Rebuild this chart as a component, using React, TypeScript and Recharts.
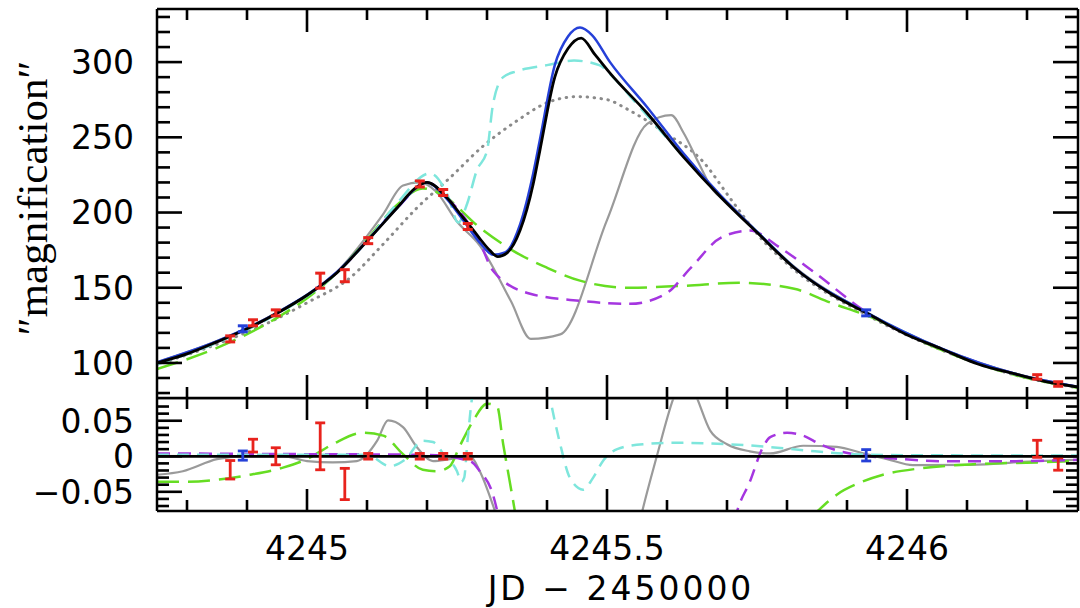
import React from 'react';
import { ComposedChart, Line, Scatter, ErrorBar, XAxis, YAxis, ReferenceLine } from 'recharts';

// x axis (JD - 2450000)
const xDomain = [4244.75, 4246.285];
const xTicks = [4244.8, 4244.9, 4245, 4245.1, 4245.2, 4245.3, 4245.4, 4245.5, 4245.6, 4245.7, 4245.8, 4245.9, 4246, 4246.1, 4246.2];
const xLabels = [4245, 4245.5, 4246];

// magnification panel
const magDomain = [76.7, 335.3];
const magTicks = [80, 90, 100, 110, 120, 130, 140, 150, 160, 170, 180, 190, 200, 210, 220, 230, 240, 250, 260, 270, 280, 290, 300, 310, 320, 330];
const magLabels = [100, 150, 200, 250, 300];

// residual panel
const resDomain = [-0.077, 0.082];
const resTicks = [-0.07, -0.06, -0.05, -0.04, -0.03, -0.02, -0.01, 0, 0.01, 0.02, 0.03, 0.04, 0.05, 0.06, 0.07];
const resLabels = [-0.05, 0, 0.05];

// model light curves [x, magnification]
const bestModel = [[4244.75, 100], [4244.8, 106], [4244.85, 114], [4244.9, 122.7], [4244.95, 133], [4245, 145], [4245.05, 160], [4245.1, 181], [4245.15, 203], [4245.18, 216], [4245.2, 220], [4245.233, 210], [4245.26, 196.7], [4245.272, 191], [4245.288, 182.7], [4245.305, 174.7], [4245.318, 170.7], [4245.333, 173], [4245.355, 188], [4245.377, 219], [4245.388, 241], [4245.413, 290], [4245.435, 309], [4245.457, 316], [4245.48, 305], [4245.505, 292.7], [4245.567, 266], [4245.628, 236.7], [4245.69, 210], [4245.752, 186], [4245.812, 163.3], [4245.873, 146], [4245.935, 132.7], [4245.997, 119.3], [4246.058, 109.3], [4246.118, 99.3], [4246.18, 92.7], [4246.242, 86.7], [4246.285, 84]];
const blueModel = [[4244.75, 100.5], [4244.85, 114.5], [4244.95, 133.3], [4245.05, 160.5], [4245.1, 181], [4245.15, 203], [4245.2, 220], [4245.233, 209], [4245.26, 195], [4245.288, 180], [4245.31, 172], [4245.33, 173.5], [4245.355, 192], [4245.377, 226], [4245.388, 248], [4245.413, 298], [4245.435, 317], [4245.455, 323], [4245.475, 318], [4245.505, 300], [4245.567, 270], [4245.628, 239], [4245.69, 211], [4245.752, 186.5], [4245.812, 163.5], [4245.935, 133], [4246.058, 109.5], [4246.18, 92.8], [4246.285, 84.2]];
const cyanModel = [[4244.75, 99], [4244.85, 113.5], [4244.95, 132.5], [4245.05, 160], [4245.1, 181], [4245.15, 206], [4245.205, 226], [4245.235, 211], [4245.252, 193.3], [4245.267, 206], [4245.283, 228], [4245.3, 241], [4245.31, 272], [4245.327, 290], [4245.35, 294], [4245.4, 298], [4245.445, 301], [4245.487, 298], [4245.51, 290], [4245.55, 272], [4245.628, 237], [4245.69, 210.5], [4245.752, 186.5], [4245.812, 163.5], [4245.935, 133], [4246.058, 109.3], [4246.18, 92.7], [4246.285, 84]];
const pointLens = [[4244.75, 99], [4244.85, 112.5], [4244.95, 129.5], [4245, 140], [4245.072, 156.7], [4245.127, 179], [4245.183, 203], [4245.238, 223], [4245.293, 244], [4245.35, 261], [4245.4, 273], [4245.45, 277], [4245.5, 275], [4245.537, 268], [4245.598, 252.7], [4245.658, 234.7], [4245.708, 208], [4245.752, 185], [4245.812, 162], [4245.935, 131.5], [4246.058, 108.5], [4246.18, 92], [4246.285, 83.5]];
const grayModel = [[4244.75, 100.5], [4244.85, 114.5], [4244.95, 133.5], [4245.05, 160.5], [4245.127, 199], [4245.16, 218], [4245.188, 220], [4245.215, 214], [4245.25, 194], [4245.288, 178], [4245.34, 141], [4245.373, 116], [4245.422, 119], [4245.5, 195], [4245.567, 259], [4245.607, 264.7], [4245.628, 252.7], [4245.653, 232.7], [4245.677, 214.7], [4245.7, 207], [4245.752, 186.5], [4245.812, 164], [4245.935, 133], [4246.058, 109.5], [4246.18, 93], [4246.285, 84]];
const greenModel = [[4244.75, 96], [4244.85, 110], [4244.95, 130], [4245, 143], [4245.05, 160], [4245.1, 182], [4245.15, 205], [4245.193, 216], [4245.22, 213], [4245.288, 190], [4245.343, 174.7], [4245.4, 163.3], [4245.455, 154.7], [4245.538, 150], [4245.628, 151.3], [4245.72, 153.3], [4245.812, 149.3], [4245.873, 140], [4245.935, 131.3], [4246.058, 108.5], [4246.18, 92], [4246.285, 83.5]];
const purpleModel = [[4244.75, 100], [4244.85, 114], [4244.95, 133], [4245.05, 160], [4245.15, 203], [4245.2, 220], [4245.233, 210], [4245.272, 191], [4245.288, 180], [4245.31, 161.3], [4245.372, 146], [4245.455, 141.3], [4245.538, 139.3], [4245.598, 146], [4245.64, 163.3], [4245.69, 183.3], [4245.738, 188], [4245.788, 176.7], [4245.843, 161], [4245.935, 133], [4246.058, 109.3], [4246.18, 92.7], [4246.285, 84]];

// observations [x, magnification, error]
const redData = [[4244.872, 116, 2], [4244.91, 126.7, 2], [4244.948, 133.3, 2], [4245.022, 154.7, 5], [4245.063, 158, 4], [4245.102, 181.3, 2], [4245.188, 219, 2], [4245.227, 213.3, 2], [4245.268, 190.7, 2], [4246.217, 90.7, 1.5], [4246.252, 86, 1.5]];
const blueData = [[4244.893, 122.7, 2], [4245.932, 133.3, 2]];

// residuals [x, residual, error]
const redResid = [[4244.872, -0.019, 0.013], [4244.91, 0.015, 0.009], [4244.948, 0, 0.012], [4245.022, 0.014, 0.033], [4245.063, -0.039, 0.022], [4245.102, 0, 0.004], [4245.188, 0, 0.004], [4245.227, 0, 0.004], [4245.268, 0, 0.004], [4246.217, 0.0105, 0.012], [4246.252, -0.011, 0.0086]];
const blueResid = [[4244.893, 0.001, 0.0065], [4245.932, 0.0014, 0.008]];

const grayResid = [[4244.75, -0.026], [4244.793, -0.021], [4244.85, -0.004], [4244.893, 0], [4244.96, 0], [4245, -0.0067], [4245.043, -0.0086], [4245.083, -0.0067], [4245.117, 0.022], [4245.135, 0.0505], [4245.16, 0.041], [4245.183, 0.013], [4245.21, -0.0067], [4245.238, -0.004], [4245.272, 0], [4245.288, -0.021], [4245.31, -0.069], [4245.322, -0.1], [4245.388, -0.35], [4245.488, -0.3], [4245.547, -0.12], [4245.558, -0.08], [4245.583, 0], [4245.61, 0.08], [4245.63, 0.12], [4245.65, 0.082], [4245.672, 0.036], [4245.7, 0.017], [4245.738, 0.007], [4245.772, 0.004], [4245.827, 0.0148], [4245.883, 0.0133], [4245.927, 0.004], [4245.967, -0.004], [4246.01, -0.0124], [4246.105, -0.012], [4246.217, -0.0067], [4246.285, -0.005]];
const cyanResid = [[4244.75, 0.002], [4244.9, 0.002], [4245, 0.002], [4245.1, 0.002], [4245.138, -0.014], [4245.163, -0.005], [4245.193, 0.022], [4245.21, 0.02], [4245.23, 0], [4245.25, -0.021], [4245.257, -0.036], [4245.262, -0.03], [4245.267, 0.017], [4245.272, 0.06], [4245.28, 0.12], [4245.3, 0.4], [4245.35, 0.4], [4245.39, 0.15], [4245.405, 0.082], [4245.422, 0.017], [4245.438, -0.03], [4245.46, -0.047], [4245.477, -0.03], [4245.493, -0.007], [4245.517, 0.01], [4245.56, 0.017], [4245.617, 0.019], [4245.7, 0.017], [4245.772, 0.013], [4245.827, 0.0086], [4245.91, 0.003], [4246, 0.0015], [4246.285, 0.001]];
const greenResid = [[4244.75, -0.036], [4244.793, -0.036], [4244.85, -0.033], [4244.905, -0.026], [4244.96, -0.016], [4245, -0.004], [4245.043, 0.017], [4245.093, 0.033], [4245.127, 0.029], [4245.16, 0.003], [4245.193, -0.019], [4245.217, -0.021], [4245.238, -0.014], [4245.255, 0.015], [4245.277, 0.05], [4245.3, 0.074], [4245.317, 0.07], [4245.327, 0.017], [4245.338, -0.036], [4245.347, -0.08], [4245.36, -0.15], [4245.45, -0.5], [4245.7, -0.3], [4245.8, -0.12], [4245.85, -0.078], [4245.883, -0.054], [4245.922, -0.037], [4245.96, -0.026], [4246.022, -0.017], [4246.105, -0.0114], [4246.217, -0.0086], [4246.285, -0.0067]];
const purpleResid = [[4244.75, 0.004], [4245, 0.003], [4245.2, 0.002], [4245.272, -0.007], [4245.288, -0.021], [4245.31, -0.054], [4245.318, -0.08], [4245.33, -0.12], [4245.45, -0.55], [4245.6, -0.35], [4245.69, -0.2], [4245.71, -0.1], [4245.717, -0.077], [4245.738, -0.036], [4245.76, 0.013], [4245.772, 0.027], [4245.8, 0.033], [4245.827, 0.029], [4245.855, 0.017], [4245.893, 0.006], [4245.938, 0], [4245.993, -0.004], [4246.067, -0.007], [4246.16, -0.007], [4246.285, -0.005]];

const curve = (arr: number[][]) => arr.map(([x, y]) => ({ x, y }));
const bars = (arr: number[][]) => arr.map(([x, y, err]) => ({ x, y, err }));

const FONT = '"DejaVu Sans", sans-serif';
const RED = '#e8231d';
const BLUE = '#2540d8';
const frame = { stroke: '#000', strokeWidth: 2.5 };

// plot boxes in page px (match the chart margins / axis sizes below)
const PLOT_L = 157;
const PLOT_R = 1078;
const TOP_T = 9;
const TOP_B = 398;
const BOT_T = 398;
const BOT_B = 511;
const TW = 2.6; // tick thickness

const isOn = (list: number[], v: number) => list.some((t) => Math.abs(t - v) < 1e-7);

const fmtX = (v: number) => String(v);
const fmtRes = (v: number) => (Math.abs(v) < 1e-9 ? '0' : v < 0 ? '\u2212' + String(-v) : String(v));

function makeLabel(side: string, majors: number[], fmt: (v: number) => string) {
  return (props: any) => {
    const x = Number(props.x);
    const y = Number(props.y);
    const v = props.payload.value;
    if (!isOn(majors, v)) return <g />;
    if (side === 'left') {
      return (
        <text x={x - 23} y={y} dy="0.36em" textAnchor="end" fontFamily={FONT} fontSize={33} fill="#000" stroke="none">
          {fmt(v)}
        </text>
      );
    }
    return (
      <text x={x} y={y + 49} textAnchor="middle" fontFamily={FONT} fontSize={33} fill="#000" stroke="none">
        {fmt(v)}
      </text>
    );
  };
}

// inward tick marks for one panel frame, as small filled bars
function FrameTicks(props: { top: number; bottom: number; yDom: number[]; yTicks: number[]; yMaj: number[]; xLen: number[]; yLen: number[] }) {
  const { top, bottom, yDom, yTicks, yMaj, xLen, yLen } = props;
  const sx = (v: number) => PLOT_L + ((v - xDomain[0]) / (xDomain[1] - xDomain[0])) * (PLOT_R - PLOT_L);
  const sy = (v: number) => bottom - ((v - yDom[0]) / (yDom[1] - yDom[0])) * (bottom - top);
  const out: React.ReactElement[] = [];
  xTicks.forEach((v, i) => {
    const len = isOn(xLabels, v) ? xLen[0] : xLen[1];
    const x = sx(v) - TW / 2;
    out.push(<rect key={`xb${i}`} x={x} y={bottom - len} width={TW} height={len} fill="#000" />);
    out.push(<rect key={`xt${i}`} x={x} y={top} width={TW} height={len} fill="#000" />);
  });
  yTicks.forEach((v, i) => {
    const len = isOn(yMaj, v) ? yLen[0] : yLen[1];
    const y = sy(v) - TW / 2;
    out.push(<rect key={`yl${i}`} x={PLOT_L} y={y} width={len} height={TW} fill="#000" />);
    out.push(<rect key={`yr${i}`} x={PLOT_R - len} y={y} width={len} height={TW} fill="#000" />);
  });
  return <g>{out}</g>;
}

const xAxisCommon = {
  dataKey: 'x',
  type: 'number' as const,
  domain: xDomain,
  ticks: xTicks,
  allowDataOverflow: true,
  interval: 0 as const,
  tickSize: 0,
  tickMargin: 0,
  tickLine: false,
  axisLine: frame,
};

const yAxisCommon = {
  dataKey: 'y',
  type: 'number' as const,
  allowDataOverflow: true,
  interval: 0 as const,
  tickSize: 0,
  tickMargin: 0,
  tickLine: false,
  axisLine: frame,
};

const noDot = { dot: false, activeDot: false, isAnimationActive: false, type: 'monotone' as const, xAxisId: 'b', yAxisId: 'l', dataKey: 'y' };

const App = () => {
  return (
    <div style={{ position: 'absolute', left: 0, top: 0, width: 1080, height: 608, background: '#fff' }}>
      <div style={{ position: 'absolute', left: 0, top: 0 }}>
        <ComposedChart width={1080} height={400} margin={{ top: 8, right: 1, bottom: 1, left: 0 }}>
          <XAxis xAxisId="b" orientation="bottom" height={1} {...xAxisCommon} tick={false} />
          <XAxis xAxisId="t" orientation="top" height={1} {...xAxisCommon} tick={false} />
          <YAxis yAxisId="l" orientation="left" width={157} {...yAxisCommon} domain={magDomain} ticks={magTicks} tick={makeLabel('left', magLabels, fmtX)} />
          <YAxis yAxisId="r" orientation="right" width={1} {...yAxisCommon} domain={magDomain} ticks={magTicks} tick={false} />

          <Line {...noDot} data={curve(pointLens)} stroke="#8a8a8a" strokeWidth={3} strokeDasharray="0.5 6.5" strokeLinecap="round" />
          <Line {...noDot} data={curve(grayModel)} stroke="#9a9a9a" strokeWidth={2.2} />
          <Line {...noDot} data={curve(greenModel)} stroke="#66dd22" strokeWidth={2.5} strokeDasharray="22 9" />
          <Line {...noDot} data={curve(purpleModel)} stroke="#a536e0" strokeWidth={2.5} strokeDasharray="13 8" />
          <Line {...noDot} data={curve(cyanModel)} stroke="#7ee6dc" strokeWidth={2.5} strokeDasharray="15 8" />
          <Line {...noDot} data={curve(blueModel)} stroke={BLUE} strokeWidth={2.5} />
          <Line {...noDot} data={curve(bestModel)} stroke="#000" strokeWidth={2.8} />

          <Scatter xAxisId="b" yAxisId="l" data={bars(redData)} dataKey="y" isAnimationActive={false} shape={() => <g />}>
            <ErrorBar dataKey="err" direction="y" width={5} stroke={RED} strokeWidth={3} />
          </Scatter>
          <Scatter xAxisId="b" yAxisId="l" data={bars(blueData)} dataKey="y" isAnimationActive={false} shape={() => <g />}>
            <ErrorBar dataKey="err" direction="y" width={5} stroke={BLUE} strokeWidth={3} />
          </Scatter>
        </ComposedChart>
      </div>

      <div style={{ position: 'absolute', left: 0, top: 397 }}>
        <ComposedChart width={1080} height={211} margin={{ top: 0, right: 1, bottom: 0, left: 0 }}>
          <XAxis xAxisId="b" orientation="bottom" height={97} {...xAxisCommon} tick={makeLabel('bottom', xLabels, fmtX)} />
          <XAxis xAxisId="t" orientation="top" height={1} {...xAxisCommon} tick={false} />
          <YAxis yAxisId="l" orientation="left" width={157} {...yAxisCommon} domain={resDomain} ticks={resTicks} tick={makeLabel('left', resLabels, fmtRes)} />
          <YAxis yAxisId="r" orientation="right" width={1} {...yAxisCommon} domain={resDomain} ticks={resTicks} tick={false} />

          <Line {...noDot} data={curve(grayResid)} stroke="#9a9a9a" strokeWidth={2.2} />
          <Line {...noDot} data={curve(greenResid)} stroke="#66dd22" strokeWidth={2.5} strokeDasharray="22 9" />
          <Line {...noDot} data={curve(purpleResid)} stroke="#a536e0" strokeWidth={2.5} strokeDasharray="13 8" />
          <Line {...noDot} data={curve(cyanResid)} stroke="#7ee6dc" strokeWidth={2.5} strokeDasharray="12 8" />
          <ReferenceLine xAxisId="b" yAxisId="l" y={0} stroke="#000" strokeWidth={2.8} />

          <Scatter xAxisId="b" yAxisId="l" data={bars(redResid)} dataKey="y" isAnimationActive={false} shape={() => <g />}>
            <ErrorBar dataKey="err" direction="y" width={5} stroke={RED} strokeWidth={2.8} />
          </Scatter>
          <Scatter xAxisId="b" yAxisId="l" data={bars(blueResid)} dataKey="y" isAnimationActive={false} shape={() => <g />}>
            <ErrorBar dataKey="err" direction="y" width={5} stroke={BLUE} strokeWidth={2.8} />
          </Scatter>
        </ComposedChart>
      </div>

      <svg width={1080} height={608} style={{ position: 'absolute', left: 0, top: 0, pointerEvents: 'none' }}>
        <FrameTicks top={TOP_T} bottom={TOP_B} yDom={magDomain} yTicks={magTicks} yMaj={magLabels} xLen={[23, 11]} yLen={[25, 13]} />
        <FrameTicks top={BOT_T} bottom={BOT_B} yDom={resDomain} yTicks={resTicks} yMaj={resLabels} xLen={[22, 11]} yLen={[25, 12]} />
        <text transform="translate(47,198) rotate(-90)" textAnchor="middle" fontFamily='"Liberation Serif", serif' fontSize={43} fill="#000">
          {'\u2033magnification\u2033'}
        </text>
        <text x={621} y={600} textAnchor="middle" fontFamily={FONT} fontSize={33} letterSpacing={3} fill="#000">
          JD − 2450000
        </text>
      </svg>
    </div>
  );
};

export default App;
